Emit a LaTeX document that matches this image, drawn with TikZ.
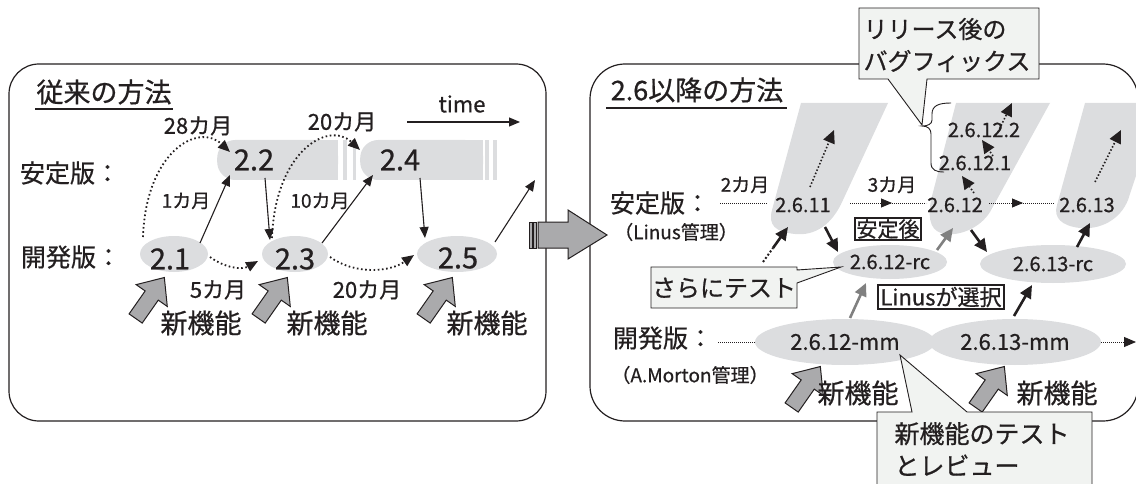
\documentclass[tikz,border=0pt]{standalone}
\usepackage{fontspec}
\setmainfont{Noto Sans CJK JP}[FakeBold=0.7]
\usetikzlibrary{arrows.meta,shapes.geometric,calc}
\newcommand\myfs[1]{\fontsize{#1}{#1}\selectfont}
\definecolor{blob}{RGB}{220,221,223}
\definecolor{calfill}{RGB}{241,243,241}
\definecolor{fa}{RGB}{170,170,172}
\definecolor{garr}{RGB}{128,128,128}
\definecolor{ink}{RGB}{35,31,32}
\tikzset{
 txt/.style={inner sep=0pt, text=ink},
 ell/.style={ellipse, fill=blob, inner sep=0pt, text=ink},
 thinarr/.style={draw=ink, line width=1.1pt, -{Triangle[length=11pt,width=9pt]}},
 dotl/.style={draw=ink, line width=1.8pt, dash pattern=on 1.6pt off 2.6pt, -{Triangle[length=12pt,width=10pt]}},
 fdot/.style={draw=ink, line width=0.8pt, dash pattern=on 0.8pt off 1.2pt},
 thk/.style={draw=ink, line width=2.6pt, -{Triangle[length=13pt,width=12pt]}},
 thkg/.style={thk, draw=garr},
 updot/.style={draw=ink, line width=1.6pt, dash pattern=on 1.5pt off 2pt, -{Triangle[length=13pt,width=12pt]}},
 boxlbl/.style={draw=ink, line width=2pt, fill=white, inner sep=2pt, text=ink},
 callout/.style={fill=calfill, draw=ink, line width=0.9pt},
 panel/.style={draw=ink, line width=1.2pt},
 farr/.pic={\draw[fill=fa, draw=ink, line width=1pt] (-25,-8) -- (3,-8) -- (3,-19) -- (25,0) -- (3,19) -- (3,8) -- (-25,8) -- cycle;}
}
\begin{document}
\begin{tikzpicture}[x=1pt,y=-1pt]
\useasboundingbox (0,0) rectangle (1136,484);
% panels
\draw[panel, rounded corners=30] (9,64) rectangle (546,421);
\draw[panel, rounded corners=35] (590,64) rectangle (1138,421);

% ================= LEFT PANEL =================
\node[txt, font=\myfs{27}] (ttl1) at (104,92) {従来の方法};
\draw[ink, line width=1.1pt] (35,109) -- (173,109);
\node[txt, font=\myfs{25}] (s1) at (70,173) {安定版：};
\node[txt, font=\myfs{25}] (d1) at (71,257) {開発版：};
\node[txt, font=\myfs{22}] (time) at (462,104) {time};
\coordinate (ta) at (407,122);
\coordinate (tb) at (520,122);
\draw[thinarr] (ta) -- (tb);

% stable bands
\node[fill=blob, rounded corners=18, minimum width=121, minimum height=40, anchor=west, inner sep=0pt] (b22) at (217,160) {};
\fill[blob] (b22.north) rectangle (b22.south east);
\fill[blob] (343,140) rectangle (347,180);
\fill[blob] (353,140) rectangle (356,180);
\node[fill=blob, rounded corners=18, minimum width=123, minimum height=40, anchor=west, inner sep=0pt] (b24) at (360,160) {};
\fill[blob] (b24.north) rectangle (b24.south east);
\fill[blob] (485,140) rectangle (489,180);
\fill[blob] (493,140) rectangle (497,180);
\node[txt, font=\myfs{29}] (t22) at (254,160) {2.2};
\node[txt, font=\myfs{29}] (t24) at (400,160) {2.4};

% dev ellipses
\node[ell, minimum width=68, minimum height=36] (v21) at (174,254) {};
\node[ell, minimum width=66, minimum height=36] (v23) at (295,254) {};
\node[ell, minimum width=80, minimum height=36] (v25) at (457,254) {};
\node[txt, font=\myfs{29}] (t21) at (170,259) {2.1};
\node[txt, font=\myfs{29}] (t23) at (295,259) {2.3};
\node[txt, font=\myfs{29}] (t25) at (458,258) {2.5};

% month labels
\node[txt, font=\myfs{22}] (m28) at (198,126) {28カ月};
\node[txt, font=\myfs{22}] (m20a) at (342,122) {20カ月};
\node[txt, font=\myfs{19}] (m1) at (186,201) {1カ月};
\node[txt, font=\myfs{19}] (m10) at (320,201) {10カ月};
\node[txt, font=\myfs{22}] (m5) at (218,290) {5カ月};
\node[txt, font=\myfs{22}] (m20b) at (367,290) {20カ月};

% solid arrows
\coordinate (out1) at (535,180);
\draw[thinarr] ($(v21)+(26,-11)$) -- ($(t22)+(-24,15)$);
\draw[thinarr] ($(t22)+(11,18)$) -- ($(v23)+(-25,-14)$);
\draw[thinarr] ($(v23)+(27,-11)$) -- ($(t24)+(-27,15)$);
\draw[thinarr] ($(t24)+(20,18)$) -- ($(v25)+(-32,-16)$);
\draw[thinarr] ($(v25)+(38,-12)$) -- (out1);
% dotted arrows
\draw[dotl] ($(v21)+(-31,-17)$) .. controls (146,152) and (198,122) .. ($(t22)+(-24,-8)$);
\draw[dotl] ($(v23)+(-23,-16)$) .. controls (275,152) and (328,120) .. ($(t24)+(-40,-10)$);
\draw[dotl] ($(v21)+(36,3)$) .. controls (225,268) and (242,270) .. ($(v23)+(-37,7)$);
\draw[dotl] ($(v23)+(35,3)$) .. controls (355,275) and (390,272) .. ($(v25)+(-43,1)$);

% new features
\pic[rotate=55] (f1) at (150,298) {farr};
\pic[rotate=55] (f2) at (273,298) {farr};
\pic[rotate=55] (f3) at (438,298) {farr};
\node[txt, font=\myfs{27}] (n1) at (201,323) {新機能};
\node[txt, font=\myfs{27}] (n2) at (327,323) {新機能};
\node[txt, font=\myfs{27}] (n3) at (487,323) {新機能};

% ================= RIGHT PANEL =================
\node[txt, font=\myfs{27}] (ttl2) at (697,90) {2.6以降の方法};
\draw[ink, line width=1.1pt] (606,108) -- (787,108);

% blobs
\fill[blob] (801,103) -- (888,103) -- (843,200) .. controls (832,225) and (815,236) .. (795,234) .. controls (775,232) and (768,225) .. (772,210) -- cycle;
\fill[blob] (956,103) -- (1050,103) -- (990,212) .. controls (980,228) and (960,236) .. (945,234) .. controls (932,232) and (927,222) .. (931,200) -- cycle;
\fill[blob] (1085,103) -- (1160,103) -- (1128,200) .. controls (1120,220) and (1100,230) .. (1080,228) .. controls (1062,226) and (1053,218) .. (1057,205) -- cycle;

\node[txt, font=\myfs{25}] (s2) at (660,203) {安定版：};
\node[txt, font=\myfs{19}] (s2b) at (676,232) {（Linus管理）};
\node[txt, font=\myfs{25}] (d2) at (663,338) {開発版：};
\node[txt, font=\myfs{19}] (d2b) at (690,375) {（A.Morton管理）};

\node[txt, font=\myfs{20}] (r11) at (803,205) {2.6.11};
\node[txt, font=\myfs{20}] (r12) at (955,205) {2.6.12};
\node[txt, font=\myfs{20}] (r13) at (1087,205) {2.6.13};
\node[txt, font=\myfs{20}] (r121) at (975,163) {2.6.12.1};
\node[txt, font=\myfs{20}] (r122) at (984,130) {2.6.12.2};
\node[txt, font=\myfs{19}] (k2m) at (745,185) {2カ月};
\node[txt, font=\myfs{19}] (k3m) at (892,185) {3カ月};

\node[ell, minimum width=114, minimum height=34, font=\myfs{20}] (rc12) at (890,262) {2.6.12-rc};
\node[ell, minimum width=146, minimum height=38, font=\myfs{20}] (rc13) at (1053,264) {2.6.13-rc};
\node[ell, minimum width=180, minimum height=46, font=\myfs{22}] (mm12) at (845,342) {2.6.12-mm};
\node[ell, minimum width=172, minimum height=46, font=\myfs{22}] (mm13) at (1015,342) {2.6.13-mm};

% stable dotted line
\coordinate (st0) at (720,203);
\draw[fdot] (st0) -- ($(r11)+(-36,-2)$);
\draw[fdot] ($(r11)+(47,-2)$) -- ($(r12)+(-29,-2)$);
\draw[draw=ink, line width=0.8pt, -{Triangle[length=11pt,width=9pt]}] ($(r11)+(80,-2)$) -- ($(r11)+(89,-2)$);
\draw[fdot] ($(r12)+(34,-2)$) -- ($(r13)+(-33,-2)$);
\draw[draw=ink, line width=0.8pt, -{Triangle[length=11pt,width=9pt]}] ($(r12)+(59,-2)$) -- ($(r12)+(68,-2)$);
% dev dotted line
\coordinate (dv0) at (718,342);
\coordinate (dvend) at (1136,342);
\draw[fdot] (dv0) -- (mm12.west);
\draw[fdot, -{Triangle[length=12pt,width=10pt]}] (mm13.east) -- (dvend);

% upward dotted arrows
\draw[updot] ($(r11)+(7,-18)$) -- ($(r11)+(31,-75)$);
\draw[updot] ($(r12)+(19,-12)$) -- ($(r121)+(-13,13)$);
\draw[updot] ($(r121)+(18,-7)$) -- ($(r122)+(-2,10)$);
\draw[updot] ($(r122)+(14,2)$) -- ($(r122)+(28,-27)$);
\draw[updot] ($(r13)+(8,-23)$) -- ($(r13)+(34,-75)$);

% thick arrows
\coordinate (tst) at (763,262);
\coordinate (tstm) at (773,248);
\draw[thk] ($(r11)+(22,22)$) -- ($(rc12)+(-52,-10)$);
\draw[draw=ink, line width=2pt, dash pattern=on 2pt off 2pt] (tst) -- (tstm);
\draw[thk] (tstm) -- ($(r11)+(-15,22)$);
\draw[thkg] ($(rc12)+(47,-12)$) -- ($(r12)+(-2,23)$);
\draw[thk] ($(r12)+(16,25)$) -- ($(rc13)+(-66,-12)$);
\draw[thk] ($(rc13)+(24,-17)$) -- ($(r13)+(3,18)$);
\draw[thkg] ($(mm12)+(5,-24)$) -- ($(rc12)+(-24,21)$);
\draw[thk] ($(mm13)+(-1,-26)$) -- ($(rc13)+(-21,21)$);

% boxed labels
\node[boxlbl, font=\myfs{21}, inner sep=1.5pt] (ak) at (888,229) {安定後};
\node[boxlbl, font=\myfs{22}] (ls) at (941,297) {Linusが選択};

% new features right
\pic[rotate=55] (g1) at (806,387) {farr};
\pic[rotate=55] (g2) at (990,387) {farr};
\node[txt, font=\myfs{27}] (nf1) at (858,393) {新機能};
\node[txt, font=\myfs{27}] (nf2) at (1057,393) {新機能};

% brace
\draw[ink, line width=0.9pt] (951,103) .. controls (938,103) and (932,106) .. (932,114) -- (932,120) .. controls (932,124) and (928,126) .. (922,126) .. controls (928,126) and (931,129) .. (931,134) -- (931,163) .. controls (931,170) and (936,172) .. (944,172);

% callouts
\draw[callout] (859,8) -- (1039,8) -- (1039,79) -- (927,79) -- (922,125) -- (888,79) -- (859,79) -- cycle;
\node[txt, font=\fontsize{24}{32}\selectfont, align=left] (cbt1) at (947,45) {リリース後の\\バグフィックス};
\draw[callout] (651,267) -- (797,267) -- (797,270) -- (841,267) -- (797,283) -- (797,308) -- (651,308) -- cycle;
\node[txt, font=\myfs{24}] (cbt2) at (724,288) {さらにテスト};
\draw[callout] (877,412) -- (912,412) -- (900,355) -- (967,412) -- (1092,412) -- (1092,500) -- (877,500) -- cycle;
\node[txt, font=\fontsize{25}{32}\selectfont, align=left] (cbt3) at (982,449) {新機能のテスト\\とレビュー};

% big arrow between panels
\draw[fill=fa, draw=ink, line width=0.8pt] (529,222) rectangle (532,248);
\draw[fill=fa, draw=ink, line width=0.8pt] (533.5,222) rectangle (536,248);
\draw[fill=fa, draw=ink, line width=1pt] (538,222) -- (568,222) -- (568,210) -- (607,235) -- (568,259) -- (568,248) -- (538,248) -- cycle;
\end{tikzpicture}
\end{document}
